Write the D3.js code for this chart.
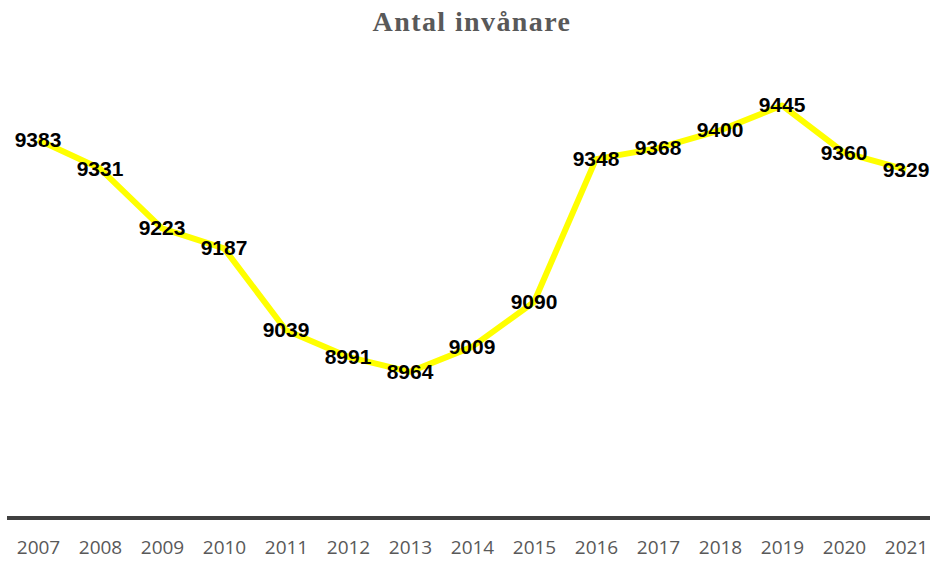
<!DOCTYPE html>
<html>
<head>
<meta charset="utf-8">
<script src="https://cdn.jsdelivr.net/npm/d3@7"></script>
<style>
  body { margin: 0; background: #fff; }
</style>
</head>
<body>
<div id="chart"></div>
<script>
const years = ["2007","2008","2009","2010","2011","2012","2013","2014","2015","2016","2017","2018","2019","2020","2021"]
const inhabitants = [9383,9331,9223,9187,9039,8991,8964,9009,9090,9348,9368,9400,9445,9360,9329]
const title = "Antal invånare"

const W = 930, H = 561
const svg = d3.select("#chart").append("svg").attr("width", W).attr("height", H)

const x = d3.scalePoint().domain(years).range([38, 906])
const y = d3.scaleLinear().domain([8700, 9500]).range([518, 75])

svg.append("text")
  .attr("x", 472).attr("y", 31)
  .attr("text-anchor", "middle")
  .style("font-family", "'Liberation Serif', serif")
  .style("font-weight", "bold")
  .style("font-size", "28px")
  .style("letter-spacing", "1.4px")
  .style("fill", "#595959")
  .text(title)

// x axis: thick baseline, no ticks
const xAxis = d3.axisBottom(x).tickSize(0).tickPadding(23)
const gx = svg.append("g").attr("transform", `translate(0, ${y(8700)})`).call(xAxis)
gx.select(".domain").attr("d", `M7,0H${W}`).attr("stroke", "#404040").attr("stroke-width", 4)
gx.selectAll("text")
  .style("font-family", "'Open Sans', sans-serif")
  .style("font-size", "19px")
  .style("fill", "#595959")

const line = d3.line().x((d, i) => x(years[i])).y(d => y(d))
svg.append("path")
  .datum(inhabitants)
  .attr("d", line)
  .attr("fill", "none")
  .attr("stroke", "#ffff00")
  .attr("stroke-width", 6)
  .attr("stroke-linejoin", "round")

svg.append("g").selectAll("text").data(inhabitants).enter().append("text")
  .attr("x", (d, i) => x(years[i]))
  .attr("y", d => y(d) + 7)
  .attr("text-anchor", "middle")
  .style("font-family", "'Liberation Sans', sans-serif")
  .style("font-weight", "bold")
  .style("font-size", "21px")
  .style("fill", "#000")
  .text(d => d)
</script>
</body>
</html>
